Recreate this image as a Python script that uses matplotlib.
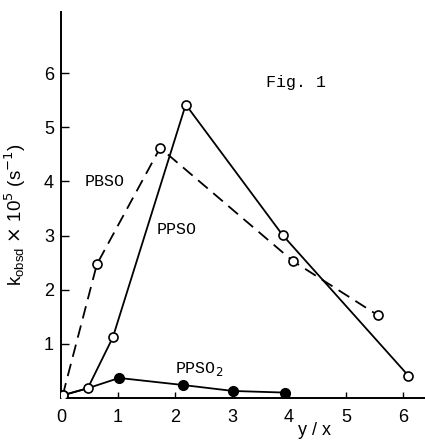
import matplotlib
matplotlib.use("Agg")
import matplotlib.pyplot as plt

# values
ppso_x = [0.03, 0.47, 0.91, 2.19, 3.89, 6.10]
ppso_y = [0.05, 0.18, 1.12, 5.42, 3.01, 0.41]

pbso_x = [0.03, 0.63, 1.74, 4.07, 5.56]
pbso_y = [0.05, 2.47, 4.62, 2.53, 1.53]

# first two points are shared with PPSO (open circles)
ppso2_x = [0.03, 0.47, 1.02, 2.14, 3.02, 3.93]
ppso2_y = [0.05, 0.18, 0.37, 0.24, 0.13, 0.10]

x_ticks = [0, 1, 2, 3, 4, 5, 6]
y_ticks = [1, 2, 3, 4, 5, 6]

W, H = 425, 440
fig = plt.figure(figsize=(W / 100, H / 100), dpi=100)
ax = fig.add_axes([61 / W, 1 - 398 / H, (W - 61) / W, (398 - 12) / H])

lw = 1.3
ax.plot(pbso_x, pbso_y, color="black", lw=lw, dashes=(7, 4), zorder=2)
ax.plot(ppso_x, ppso_y, color="black", lw=lw, zorder=2)
ax.plot(ppso2_x, ppso2_y, color="black", lw=lw, zorder=2)

# markers
ax.plot(pbso_x, pbso_y, ls="none", marker="o", ms=6.5, mfc="white", mec="black", mew=1.2, zorder=3)
ax.plot(ppso_x, ppso_y, ls="none", marker="o", ms=6.5, mfc="white", mec="black", mew=1.2, zorder=3)
ax.plot(ppso2_x[2:], ppso2_y[2:], ls="none", marker="o", ms=7, mfc="black", mec="black", zorder=3)

ax.set_xlim(0, 6.39)
ax.set_ylim(0, 7.13)

for s in ["top", "right"]:
    ax.spines[s].set_visible(False)
for s in ["left", "bottom"]:
    ax.spines[s].set_linewidth(1.4)

ax.set_xticks(x_ticks)
ax.set_yticks(y_ticks)
tick_font = {"family": "Liberation Sans", "size": 13}
ax.set_xticklabels([str(v) for v in x_ticks], fontdict=tick_font)
ax.set_yticklabels([str(v) for v in y_ticks], fontdict=tick_font)
ax.tick_params(axis="x", direction="in", length=4, width=1, pad=8)
ax.tick_params(axis="y", direction="in", length=6, width=1, pad=5)

ax.set_ylabel(r"k$_{\mathregular{obsd}}$ $\times$ 10$^5$ (s$^{-1}$)",
              fontsize=13.5, family="Liberation Sans")
ax.yaxis.set_label_coords(-0.092, 0.474)
# x label sits low, just above the bottom edge
fig.text(315 / W, 1 / H, "y / x", ha="center", va="bottom",
         fontsize=13, family="Liberation Sans")

mono = "Liberation Mono"
ax.text(0.77, 4.0, "PBSO", ha="center", va="center", fontsize=12, family=mono)
ax.text(2.03, 3.12, "PPSO", ha="center", va="center", fontsize=12, family=mono)
ax.text(2.0, 0.54, "PPSO$_2$", ha="left", va="center", fontsize=12, family=mono)
ax.text(4.12, 5.83, "Fig. 1", ha="center", va="center", fontsize=12, family=mono)

fig.savefig("out.png", dpi=100)
